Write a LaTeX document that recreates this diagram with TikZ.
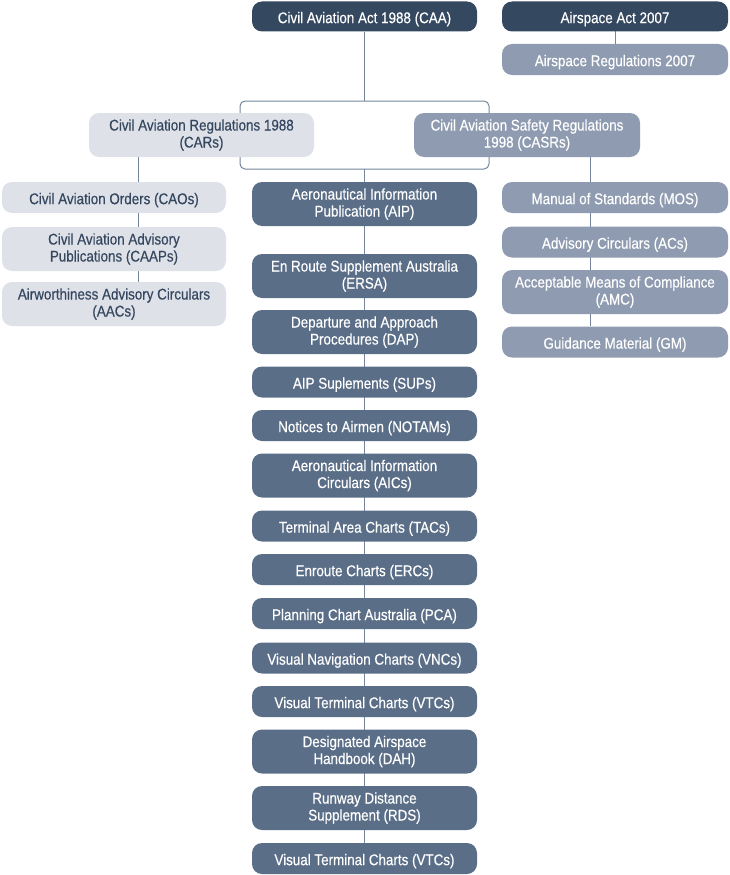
\documentclass[tikz,border=0pt]{standalone}
\usepackage{fontspec}
\setmainfont{Liberation Sans}[FakeStretch=0.865, FakeBold=0.4]
\usetikzlibrary{backgrounds}

\definecolor{actblue}{HTML}{344860}
\definecolor{pubblue}{HTML}{5B6E88}
\definecolor{casrblue}{HTML}{8F9BB0}
\definecolor{carpale}{HTML}{DEE1E8}
\definecolor{cartext}{HTML}{34475F}
\definecolor{linkgray}{HTML}{75859C}

% Fixed struts so every label sits at the same height in its box
\newcommand{\labeltop}{\rule{0pt}{16.5pt}}
\newcommand{\labeltoptwo}{\rule{0pt}{19pt}}
\newcommand{\labelbottom}{\rule[-2pt]{0pt}{2pt}}

\tikzset{
  box/.style={rectangle, rounded corners=10pt, inner sep=0pt, align=center,
    font=\fontsize{15.5}{17}\selectfont,
    execute at begin node=\labeltop, execute at end node=\labelbottom},
  single/.style={minimum height=31pt},
  double/.style={minimum height=44pt, execute at begin node=\labeltoptwo},
  act/.style={box, fill=actblue, text=white, minimum width=225pt},
  pub/.style={box, fill=pubblue, text=white, minimum width=225pt},
  casr/.style={box, fill=casrblue, text=white, minimum width=226pt},
  car/.style={box, fill=carpale, text=cartext, minimum width=224pt},
  link/.style={draw=linkgray, line width=1pt},
}

\begin{document}
\begin{tikzpicture}[x=1pt, y=-1pt]
\useasboundingbox (0,0) rectangle (729,875);

% Acts
\node[act, minimum height=30pt] (caa) at (364.5,16.5) {Civil Aviation Act 1988 (CAA)};
\node[act, minimum width=226pt, minimum height=30pt] (asa) at (615,16.5) {Airspace Act 2007};
\node[casr, single] (asr) at (615,59.5) {Airspace Regulations 2007};

% Regulations
\node[car, double, minimum width=225pt] (cars) at (201.5,135) {Civil Aviation Regulations 1988\\(CARs)};
\node[casr, double] (casrs) at (527,135) {Civil Aviation Safety Regulations\\1998 (CASRs)};

% Instruments under the CARs
\node[car, single] (caos) at (114,197.5) {Civil Aviation Orders (CAOs)};
\node[car, double] (caaps) at (114,249) {Civil Aviation Advisory\\Publications (CAAPs)};
\node[car, double] (aacs) at (114,304) {Airworthiness Advisory Circulars\\(AACs)};

% Material under the CASRs
\node[casr, single] (mos) at (615,197.5) {Manual of Standards (MOS)};
\node[casr, single] (acs) at (615,242) {Advisory Circulars (ACs)};
\node[casr, double] (amc) at (615,292) {Acceptable Means of Compliance\\(AMC)};
\node[casr, single] (gm) at (615,342) {Guidance Material (GM)};

% Aeronautical information publications
\node[pub, double] (aip) at (364.5,204) {Aeronautical Information\\Publication (AIP)};
\node[pub, double] (ersa) at (364.5,276) {En Route Supplement Australia\\(ERSA)};
\node[pub, double] (dap) at (364.5,332) {Departure and Approach\\Procedures (DAP)};
\node[pub, single] (sups) at (364.5,382) {AIP Suplements (SUPs)};
\node[pub, single] (notams) at (364.5,425.5) {Notices to Airmen (NOTAMs)};
\node[pub, double] (aics) at (364.5,475.5) {Aeronautical Information\\Circulars (AICs)};
\node[pub, single] (tacs) at (364.5,526) {Terminal Area Charts (TACs)};
\node[pub, single] (ercs) at (364.5,569.5) {Enroute Charts (ERCs)};
\node[pub, single] (pca) at (364.5,613.5) {Planning Chart Australia (PCA)};
\node[pub, single] (vncs) at (364.5,658) {Visual Navigation Charts (VNCs)};
\node[pub, single] (vtcs) at (364.5,701.5) {Visual Terminal Charts (VTCs)};
\node[pub, double] (dah) at (364.5,751.5) {Designated Airspace\\Handbook (DAH)};
\node[pub, double] (rds) at (364.5,808) {Runway Distance\\Supplement (RDS)};
\node[pub, single] (vtcb) at (364.5,858.5) {Visual Terminal Charts (VTCs)};

% Connector guide points
\coordinate (topl) at (240,101);
\coordinate (topr) at (489,101);
\coordinate (botl) at (240,169);
\coordinate (botr) at (489,169);
\coordinate (lcol) at (138,0);
\coordinate (rcol) at (590,0);

\begin{scope}[on background layer]
  % Act to both sets of regulations
  \draw[link] (caa.south) -- (caa |- topl);
  \draw[link, rounded corners=5pt] (cars.north -| topl) -- (topl) -- (topr) -- (casrs.north -| topr);
  % Both sets of regulations to the AIP
  \draw[link, rounded corners=5pt] (cars.south -| botl) -- (botl) -- (botr) -- (casrs.south -| botr);
  \draw[link] (aip |- botl) -- (aip.north);
  % Publication spine
  \draw[link] (aip.center) -- (vtcb.center);
  % Side columns
  \draw[link] (cars.south -| lcol) -- (aacs.north -| lcol);
  \draw[link] (casrs.south -| rcol) -- (gm.north -| rcol);
  % Airspace
  \draw[link] (asa.center) -- (asr.center);
\end{scope}
\end{tikzpicture}
\end{document}
